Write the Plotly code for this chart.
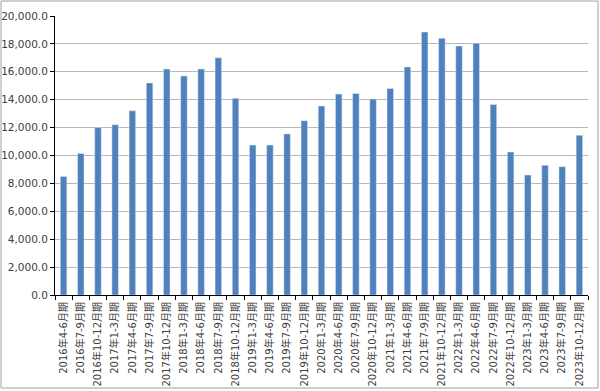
import plotly.graph_objects as go

categories = [
    "2016年4-6月期", "2016年7-9月期", "2016年10-12月期",
    "2017年1-3月期", "2017年4-6月期", "2017年7-9月期", "2017年10-12月期",
    "2018年1-3月期", "2018年4-6月期", "2018年7-9月期", "2018年10-12月期",
    "2019年1-3月期", "2019年4-6月期", "2019年7-9月期", "2019年10-12月期",
    "2020年1-3月期", "2020年4-6月期", "2020年7-9月期", "2020年10-12月期",
    "2021年1-3月期", "2021年4-6月期", "2021年7-9月期", "2021年10-12月期",
    "2022年1-3月期", "2022年4-6月期", "2022年7-9月期", "2022年10-12月期",
    "2023年1-3月期", "2023年4-6月期", "2023年7-9月期", "2023年10-12月期",
]
values = [
    8500, 10150, 12000,
    12200, 13200, 15200, 16200,
    15700, 16200, 17000, 14100,
    10750, 10750, 11550, 12500,
    13550, 14400, 14450, 14050,
    14800, 16350, 18850, 18400,
    17850, 18050, 13650, 10250,
    8600, 9300, 9200, 11450,
]
y_ticks = [0, 2000, 4000, 6000, 8000, 10000, 12000, 14000, 16000, 18000, 20000]

L, R, T, B = 55, 12, 16, 96
W, H = 600, 391
pw, ph = W - L - R, H - T - B

fig = go.Figure(go.Bar(x=categories, y=values, marker_color="#4f81bd", width=0.38))

fig.update_layout(
    width=W, height=H,
    margin=dict(l=L, r=R, t=T, b=B, autoexpand=False),
    paper_bgcolor="white", plot_bgcolor="white",
    font=dict(family="DejaVu Sans, Noto Sans CJK JP", size=10, color="#404040"),
    showlegend=False,
    bargap=0.6,
    xaxis=dict(
        type="category", tickangle=-90, tickson="boundaries",
        ticks="outside", ticklen=4, tickcolor="black",
        showline=True, linecolor="black", linewidth=1,
        showgrid=False, automargin=False, ticklabelstandoff=2,
        tickfont=dict(family="DejaVu Sans, Noto Sans CJK JP", size=10, color="#404040"),
    ),
    yaxis=dict(
        range=[0, 20000], tickvals=y_ticks, tickformat=",.1f",
        ticks="outside", ticklen=4, tickcolor="black",
        showline=True, linecolor="black", linewidth=1,
        showgrid=True, gridcolor="#b7b7b7", gridwidth=1,
        zeroline=False, automargin=False,
        tickfont=dict(family="DejaVu Sans", size=10.5, color="#404040"),
    ),
    shapes=[dict(
        type="rect", xref="paper", yref="paper",
        x0=(1 - L) / pw, x1=(W - 2 - L) / pw,
        y0=-(H - 3 - T - ph) / ph, y1=(T - 1) / ph + 1,
        line=dict(color="#a0a0a0", width=1), fillcolor="rgba(0,0,0,0)",
    )],
)

fig.write_html(
    "out.html",
    config={"displayModeBar": False},
    post_script="document.body.style.margin='0';document.body.style.overflow='hidden';",
)
